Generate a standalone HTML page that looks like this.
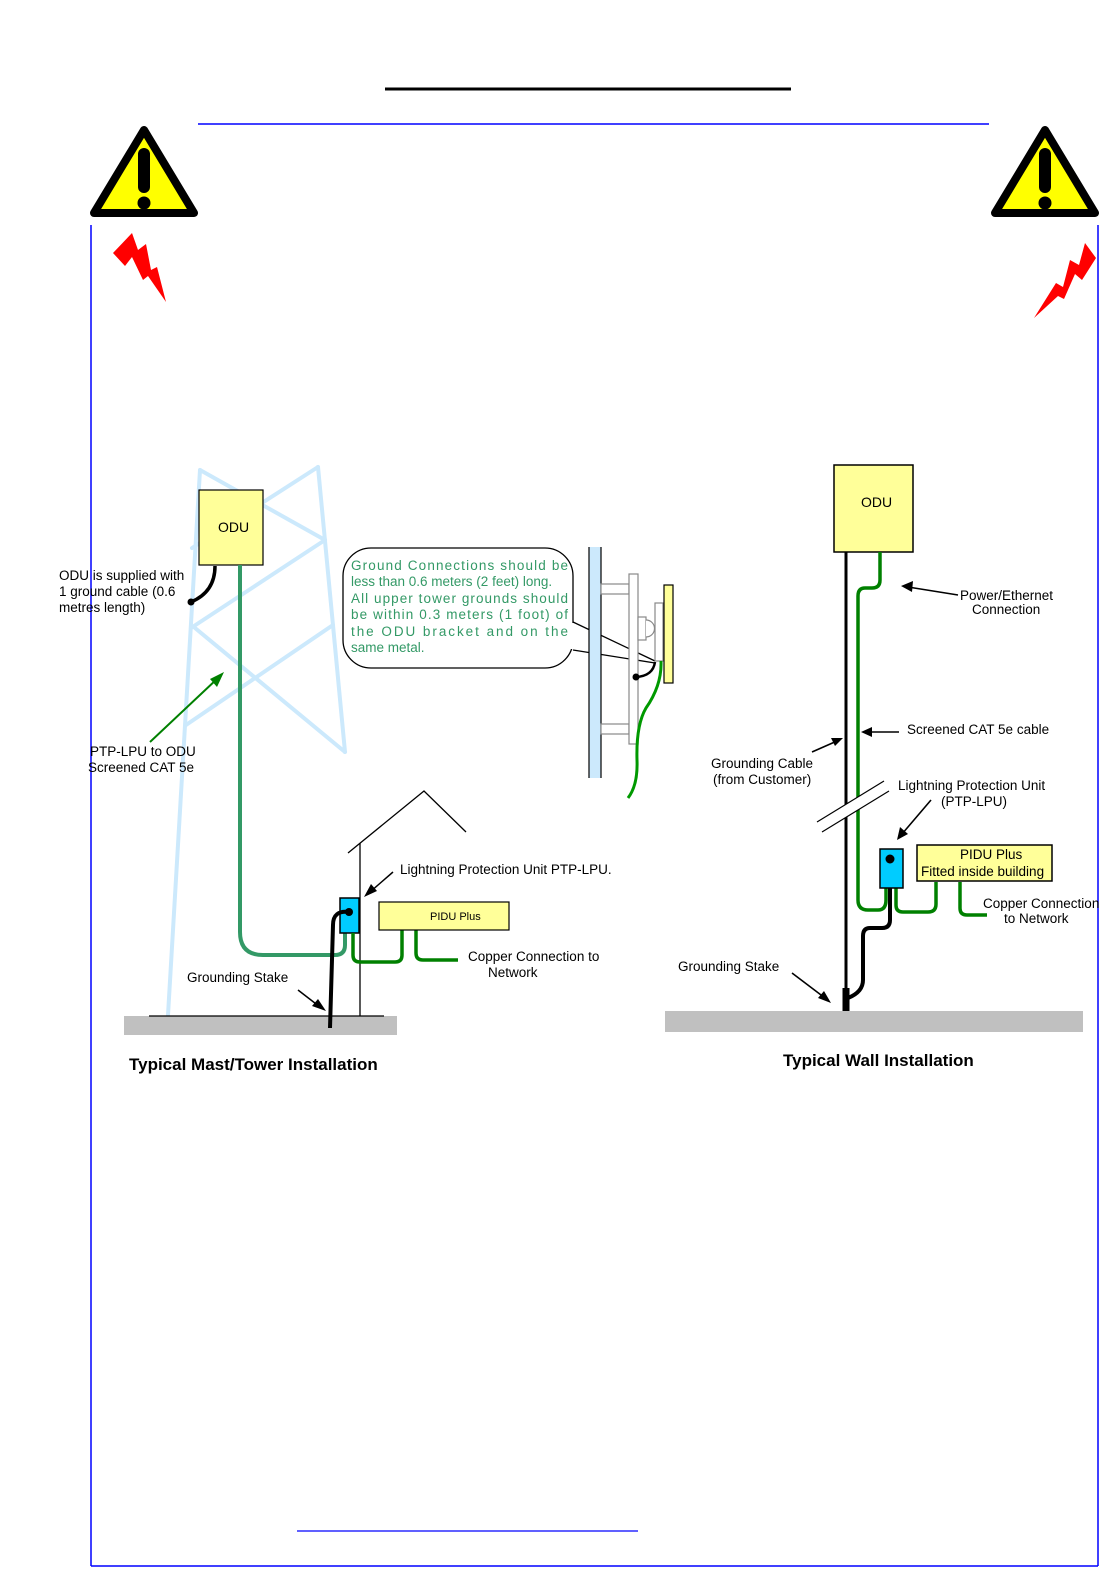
<!DOCTYPE html>
<html><head><meta charset="utf-8"><style>
html,body{margin:0;padding:0;background:#fff}
svg{display:block}
text{font-family:"Liberation Sans",Arial,sans-serif;font-size:13.5px;fill:#000}
</style></head><body>
<svg width="1119" height="1586" viewBox="0 0 1119 1586" xmlns="http://www.w3.org/2000/svg">
<!-- page frame -->
<line x1="385" y1="89" x2="791" y2="89" stroke="#000" stroke-width="3"/>
<line x1="198" y1="124" x2="989" y2="124" stroke="#0000ff" stroke-width="1.5"/>
<line x1="91" y1="225" x2="91" y2="1566" stroke="#0000ff" stroke-width="1.5"/>
<line x1="1098" y1="225" x2="1098" y2="1566" stroke="#0000ff" stroke-width="1.5"/>
<line x1="91" y1="1566" x2="1098" y2="1566" stroke="#0000ff" stroke-width="1.5"/>
<line x1="297" y1="1531" x2="638" y2="1531" stroke="#0000ff" stroke-width="1.2"/>

<!-- warning icons -->
<g>
<path d="M144,130 L194,213 L94,213 Z" fill="#ffff00" stroke="#000" stroke-width="8" stroke-linejoin="round"/>
<rect x="138" y="148" width="12" height="45" rx="6" fill="#000"/>
<circle cx="144" cy="203" r="6.5" fill="#000"/>
<path d="M113,253 L132,233 L138,250 L146,244 L151,270 L157,267 L166,302 L148,276 L143,280 L132,257 L125,266 Z" fill="#ff0000"/>
</g>
<g>
<path d="M1045,130 L1095,213 L995,213 Z" fill="#ffff00" stroke="#000" stroke-width="8" stroke-linejoin="round"/>
<rect x="1039" y="148" width="12" height="45" rx="6" fill="#000"/>
<circle cx="1045" cy="203" r="6.5" fill="#000"/>
<path d="M1096,258 L1085,243 L1079,265 L1070,260 L1063,287 L1056,283 L1034,318 L1058,296 L1064,299 L1075,274 L1082,280 Z" fill="#ff0000"/>
</g>

<!-- tower -->
<g stroke="#cce9fc" stroke-width="4" fill="none" stroke-linecap="round">
<line x1="200" y1="470" x2="168" y2="1015"/>
<line x1="318" y1="467" x2="345" y2="752"/>
<line x1="200" y1="470" x2="325" y2="540"/>
<line x1="318" y1="467" x2="192" y2="548"/>
<line x1="325" y1="540" x2="191" y2="628"/>
<line x1="195" y1="628" x2="345" y2="752"/>
<line x1="333" y1="625" x2="186" y2="725"/>
</g>
<!-- left ODU -->
<rect x="199" y="490" width="64" height="75" fill="#ffff99" stroke="#000" stroke-width="1.2"/>
<text x="218" y="532" style="font-size:14px">ODU</text>
<path d="M215,566 Q215,592 191,602" stroke="#000" stroke-width="3.5" fill="none"/>
<circle cx="191" cy="602" r="3.5" fill="#000"/>
<text x="59" y="580">ODU is supplied with</text>
<text x="59" y="596">1 ground cable (0.6</text>
<text x="59" y="612">metres length)</text>
<!-- teal cable -->
<path d="M240,565 L240,932 Q240,955 263,955 L335,955 Q345,955 345,945 L345,933" stroke="#339966" stroke-width="4" fill="none"/>
<!-- green arrow -->
<line x1="150" y1="742" x2="218" y2="678" stroke="#008000" stroke-width="2"/>
<path d="M224,672 L210,679 L217,687 Z" fill="#008000"/>
<text x="90" y="756">PTP-LPU to ODU</text>
<text x="88" y="772">Screened CAT 5e</text>

<!-- house -->
<polyline points="348,853 424,791 466,832" stroke="#000" stroke-width="1.3" fill="none"/>
<line x1="360" y1="843" x2="360" y2="1017" stroke="#000" stroke-width="1.3"/>
<rect x="124" y="1016" width="273" height="19" fill="#c0c0c0"/>
<line x1="149" y1="1016" x2="384" y2="1016" stroke="#000" stroke-width="1.3"/>
<rect x="340" y="898" width="19" height="35" fill="#00ccff" stroke="#000" stroke-width="1.5"/>
<path d="M349,912 Q333,910 333,925 L330,1028" stroke="#000" stroke-width="4" fill="none"/>
<circle cx="349" cy="912" r="4" fill="#000"/>
<path d="M353,933 L353,955 Q353,962 360,962 L395,962 Q402,962 402,955 L402,930" stroke="#008000" stroke-width="3.5" fill="none"/>
<path d="M416,930 L416,953 Q416,960 423,960 L458,960" stroke="#008000" stroke-width="3.5" fill="none"/>
<rect x="379" y="902" width="130" height="28" fill="#ffff99" stroke="#000" stroke-width="1.2"/>
<text x="430" y="920" style="font-size:11px">PIDU  Plus</text>
<line x1="393" y1="872" x2="370" y2="892" stroke="#000" stroke-width="1.5"/>
<path d="M364,897 L371,884 L377,891 Z" fill="#000"/>
<text x="400" y="874">Lightning Protection Unit  PTP-LPU.</text>
<text x="468" y="961">Copper Connection to</text>
<text x="488" y="977">Network</text>
<text x="187" y="982">Grounding Stake</text>
<line x1="298" y1="990" x2="320" y2="1007" stroke="#000" stroke-width="1.5"/>
<path d="M326,1011 L312,1006 L318,999 Z" fill="#000"/>
<text x="129" y="1070" style="font-size:17px;font-weight:bold">Typical Mast/Tower Installation</text>

<!-- callout -->
<rect x="343" y="548" width="230" height="120" rx="28" ry="28" fill="#fff" stroke="#000" stroke-width="1.3"/>
<rect x="570" y="623" width="6" height="26" fill="#fff"/>
<line x1="573" y1="622" x2="655" y2="661" stroke="#000" stroke-width="1.3"/>
<line x1="573" y1="650" x2="655" y2="663" stroke="#000" stroke-width="1.3"/>
<text x="351" y="570" textLength="217" lengthAdjust="spacing" style="fill:#339966">Ground  Connections  should  be</text>
<text x="351" y="586" style="fill:#339966">less than 0.6 meters (2 feet) long.</text>
<text x="351" y="603" textLength="217" lengthAdjust="spacing" style="fill:#339966">All  upper  tower  grounds  should</text>
<text x="351" y="619" textLength="217" lengthAdjust="spacing" style="fill:#339966">be  within  0.3  meters  (1  foot)  of</text>
<text x="351" y="636" textLength="217" lengthAdjust="spacing" style="fill:#339966">the   ODU   bracket   and   on   the</text>
<text x="351" y="652" style="fill:#339966">same metal.</text>
<!-- wall detail -->
<rect x="589" y="547" width="12" height="231" fill="#cce9fc"/>
<line x1="589" y1="547" x2="589" y2="778" stroke="#000" stroke-width="1.2"/>
<line x1="601" y1="547" x2="601" y2="778" stroke="#000" stroke-width="1.2"/>
<g fill="#fff" stroke="#888" stroke-width="1.2">
<rect x="601" y="584" width="28" height="10"/>
<rect x="601" y="724" width="28" height="10"/>
<rect x="629" y="574" width="9" height="170"/>
<rect x="638" y="617" width="8" height="23"/>
<path d="M646,620 A8,8 0 0 1 646,637"/>
<rect x="655" y="603" width="8" height="58"/>
</g>
<rect x="664" y="585" width="9" height="98" fill="#ffff99" stroke="#000" stroke-width="1.2"/>
<path d="M655,662 Q653,676 636,677" stroke="#000" stroke-width="2.5" fill="none"/>
<circle cx="636" cy="677" r="3.5" fill="#000"/>
<path d="M661,661 Q662,685 646,708 Q636,725 637,760 Q638,785 628,798" stroke="#009900" stroke-width="3" fill="none"/>

<!-- wall installation -->
<rect x="834" y="465" width="79" height="87" fill="#ffff99" stroke="#000" stroke-width="1.5"/>
<text x="861" y="507" style="font-size:14px">ODU</text>
<line x1="846" y1="552" x2="846" y2="1010" stroke="#000" stroke-width="3"/>
<line x1="846" y1="988" x2="846" y2="1026" stroke="#000" stroke-width="7"/>
<path d="M880,552 L880,580 Q880,588 872,588 L865,588 Q858,588 858,596 L858,900 Q858,910 868,910 L878,910 Q886,910 886,900 L886,888" stroke="#008000" stroke-width="3.5" fill="none"/>
<path d="M896,888 L896,905 Q896,912 903,912 L928,912 Q936,912 936,904 L936,882" stroke="#008000" stroke-width="3.5" fill="none"/>
<path d="M960,882 L960,908 Q960,915 967,915 L987,915" stroke="#008000" stroke-width="3.5" fill="none"/>
<path d="M890,860 L890,920 Q890,928 882,928 L870,928 Q863,928 863,936 L863,980 Q863,992 848,998" stroke="#000" stroke-width="4" fill="none"/>
<rect x="880" y="849" width="23" height="39" fill="#00ccff" stroke="#000" stroke-width="1.5"/>
<circle cx="890" cy="859" r="4.5" fill="#000"/>
<rect x="917" y="845" width="135" height="36" fill="#ffff99" stroke="#000" stroke-width="1.5"/>
<text x="960" y="859">PIDU Plus</text>
<text x="921" y="876">Fitted inside building</text>
<!-- break -->
<path d="M817,822 L880,783 L887,793 L822,832 Z" fill="#fff"/>
<line x1="817" y1="822" x2="884" y2="781" stroke="#000" stroke-width="1.2"/>
<line x1="822" y1="832" x2="889" y2="791" stroke="#000" stroke-width="1.2"/>
<rect x="665" y="1011" width="418" height="21" fill="#c0c0c0"/>
<!-- arrows -->
<g stroke="#000" stroke-width="1.6">
<line x1="958" y1="595" x2="908" y2="587"/>
<line x1="899" y1="732" x2="868" y2="732"/>
<line x1="812" y1="752" x2="837" y2="741"/>
<line x1="931" y1="800" x2="902" y2="834"/>
<line x1="792" y1="973" x2="825" y2="998"/>
</g>
<path d="M901,586 L913,581 L912,592 Z" fill="#000"/>
<path d="M861,732 L872,727 L872,737 Z" fill="#000"/>
<path d="M843,738 L831,738 L835,746 Z" fill="#000"/>
<path d="M897,840 L900,827 L908,834 Z" fill="#000"/>
<path d="M831,1003 L818,998 L824,991 Z" fill="#000"/>
<text x="960" y="600">Power/Ethernet</text>
<text x="972" y="614">Connection</text>
<text x="907" y="734">Screened CAT 5e cable</text>
<text x="711" y="768">Grounding Cable</text>
<text x="713" y="784">(from Customer)</text>
<text x="898" y="790">Lightning Protection Unit</text>
<text x="941" y="806">(PTP-LPU)</text>
<text x="983" y="908">Copper Connection</text>
<text x="1004" y="923">to Network</text>
<text x="678" y="971">Grounding Stake</text>
<text x="783" y="1066" style="font-size:17px;font-weight:bold">Typical Wall Installation</text>
</svg>
</body></html>
